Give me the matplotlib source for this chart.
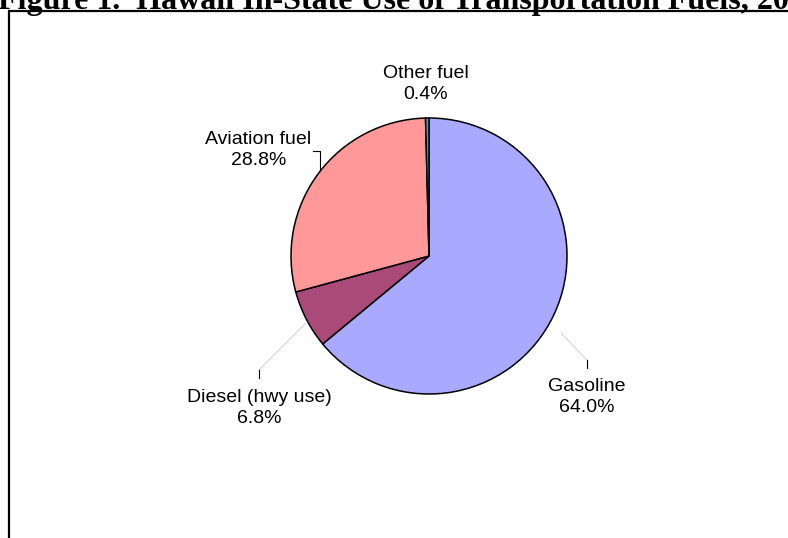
import matplotlib.pyplot as plt
from matplotlib.patches import Rectangle

labels = ['Gasoline', 'Diesel (hwy use)', 'Aviation fuel', 'Other fuel']
shares = [64.0, 6.8, 28.8, 0.4]
colors = ['#A9A9FF', '#A94A78', '#FF9999', '#33A6C0']

W, H = 788, 538
fig = plt.figure(figsize=(W / 100, H / 100), dpi=100)
ax = fig.add_axes([0, 0, 1, 1])

# pie in pixel-like coordinates (y up)
cx, cy, r = 429, H - 256, 138
ax.pie(shares, colors=colors, startangle=90, counterclock=False,
       center=(cx, cy), radius=r,
       wedgeprops=dict(edgecolor='black', linewidth=1.1))
ax.set_xlim(0, W)
ax.set_ylim(0, H)
ax.set_aspect('equal')
ax.axis('off')

# label text positions (pixel coords from the top)
label_pos = [(587, 397), (259.5, 408), (258.5, 150), (425.5, 84)]
for lab, val, (x, y) in zip(labels, shares, label_pos):
    ax.text(x, H - y, f'{lab}\n{val:.1f}%', ha='center', va='center',
            fontsize=14, family='Liberation Sans', linespacing=1.25)

# leader lines
lc = '#C8C8C8'
ax.plot([587, 561], [H - 360, H - 333], color=lc, lw=0.6)
ax.plot([587, 587], [H - 360, H - 368], color='black', lw=0.8)
ax.plot([259, 306], [H - 370, H - 323], color=lc, lw=0.6)
ax.plot([259, 259], [H - 370, H - 378], color='black', lw=0.8)
ax.plot([313, 320, 320], [H - 151, H - 151, H - 171], color='black', lw=0.8)

# chart frame (runs past the right and bottom edges)
ax.add_patch(Rectangle((9, -20), W + 40, H - 11 + 20, fill=False,
                       edgecolor='black', lw=1.6, clip_on=False))

# title, cut off at the top like the source page crop
fig.text(-0.003, 1 - 8.5 / H, 'Figure 1.  Hawaii In-State Use of Transportation Fuels, 2005',
         ha='left', va='baseline', fontsize=23, fontweight='bold',
         family='Liberation Serif')

fig.savefig('out.png', dpi=100)
